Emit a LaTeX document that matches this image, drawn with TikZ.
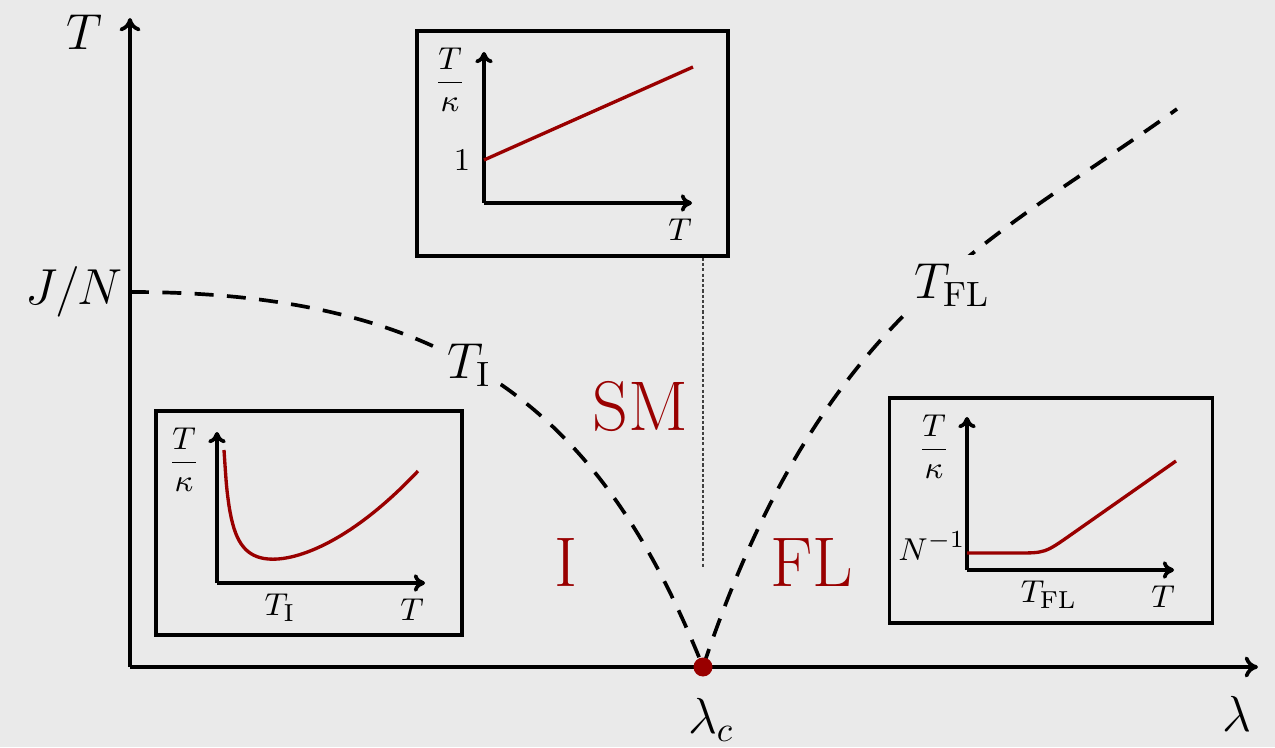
\documentclass[tikz,border=0pt]{standalone}
\usepackage{tikz}
\usetikzlibrary{arrows.meta, positioning, calc}
\usepackage{amsmath}

\definecolor{bgcol}{HTML}{EAEAEA}
\definecolor{phasered}{HTML}{990000}

\begin{document}
\begin{tikzpicture}[
    >={Computer Modern Rightarrow[length=3.8pt,width=6pt]},
    axis/.style={->, line width=1.05pt},
    inaxis/.style={-{Computer Modern Rightarrow[length=3.2pt,width=5pt]},
                   line width=1.05pt},
    crossover/.style={line width=1.05pt, dash pattern=on 5.4pt off 3.8pt},
    guide/.style={line width=0.4pt, black!75, dash pattern=on 0.9pt off 0.6pt},
    inset/.style={draw, line width=1pt, minimum height=2.25cm, inner sep=0pt},
    curve/.style={phasered, line width=0.95pt},
    lbl/.style={font=\Large},
    onlabel/.style={font=\Large, fill=bgcol, inner sep=2.5pt},
    phase/.style={font=\fontsize{20}{24}\selectfont, text=phasered},
    insetlbl/.style={font=\fontsize{9.5}{11.5}\selectfont}
  ]

  % page and background
  \useasboundingbox (0,0) rectangle (12.75,7.47);
  \fill[bgcol] (0,0) rectangle (12.75,7.47);

  % main axes
  \coordinate (O) at (1.30,0.80);
  \coordinate (Ttip) at (1.30,7.29);
  \coordinate (ltip) at (12.58,0.80);
  \draw[axis] (O) -- (Ttip);
  \draw[axis] (O) -- (ltip);
  \node[lbl] (Tlab) at (0.84,7.15) {$T$};
  \node[lbl] (llab) at (12.37,0.33) {$\lambda$};
  \node[lbl, anchor=east, inner sep=2pt] (JN) at (1.30,4.55) {$J/N$};

  % crossover lines
  \coordinate (lc0) at (7.03,0.80);
  \draw[crossover] (1.30,4.55) .. controls (4.6,4.55) and (6.03,3.30) .. (lc0);
  \draw[crossover] (lc0) .. controls (8.23,4.40) and (9.97,5.08) .. (11.77,6.38);
  \node[onlabel] (TI) at (4.69,3.82) {$T_{\mathrm{I}}$};
  \node[onlabel] (TFL) at (9.52,4.62) {$T_{\mathrm{FL}}$};

  % phases
  \node[phase] (SM) at (6.40,3.41) {SM};
  \node[phase] (I) at (5.66,1.85) {I};
  \node[phase] (FL) at (8.12,1.85) {FL};

  % critical point
  \node[circle, fill=phasered, inner sep=0pt, minimum size=0.19cm] (lc) at (lc0) {};
  \node[lbl] (lclab) at (7.11,0.27) {$\lambda_c$};

  % inset: semimetal
  \node[inset, minimum width=3.11cm] (smbox) at (5.725,6.035) {};
  \begin{scope}[shift={(4.84,5.44)}]
    \draw[inaxis] (0,0) -- (0,1.51);
    \draw[inaxis] (0,0) -- (2.08,0);
    \draw[curve] (0,0.43) -- (2.09,1.36);
    \node[insetlbl] (smone) at (-0.22,0.43) {$1$};
    \node[insetlbl] (smy) at (-0.34,1.23) {$\dfrac{T}{\kappa}$};
    \node[insetlbl] (smx) at (1.96,-0.27) {$T$};
  \end{scope}
  \coordinate (smend) at (7.03,1.79);
  \draw[guide] (lc |- smbox.south) -- (smend);

  % inset: insulator
  \node[inset, minimum width=3.06cm, minimum height=2.24cm] (ibox) at (3.09,2.24) {};
  \begin{scope}[shift={(2.17,1.64)}]
    \draw[inaxis] (0,0) -- (0,1.51);
    \draw[inaxis] (0,0) -- (2.08,0);
    \draw[curve] plot[domain=0.07:2.01, samples=80, smooth]
      (\x, {0.094/\x + 0.269*\x*\x - 0.014});
    \node[insetlbl] (iy) at (-0.33,1.23) {$\dfrac{T}{\kappa}$};
    \node[insetlbl] (iti) at (0.63,-0.25) {$T_{\mathrm{I}}$};
    \node[insetlbl] (ix) at (1.95,-0.27) {$T$};
  \end{scope}

  % inset: Fermi liquid
  \node[inset, minimum width=3.23cm] (flbox) at (10.51,2.365) {};
  \begin{scope}[shift={(9.67,1.77)}]
    \draw[inaxis] (0,0) -- (0,1.53);
    \draw[inaxis] (0,0) -- (2.07,0);
    \draw[curve] (0,0.17) -- (0.5,0.17) .. controls (0.78,0.17) .. (1.05,0.36)
      -- (2.09,1.09);
    \node[insetlbl] (fly) at (-0.33,1.23) {$\dfrac{T}{\kappa}$};
    \node[insetlbl] (flN) at (-0.35,0.24) {$N^{-1}$};
    \node[insetlbl] (flt) at (0.82,-0.25) {$T_{\mathrm{FL}}$};
    \node[insetlbl] (flx) at (1.96,-0.27) {$T$};
  \end{scope}
\end{tikzpicture}
\end{document}
